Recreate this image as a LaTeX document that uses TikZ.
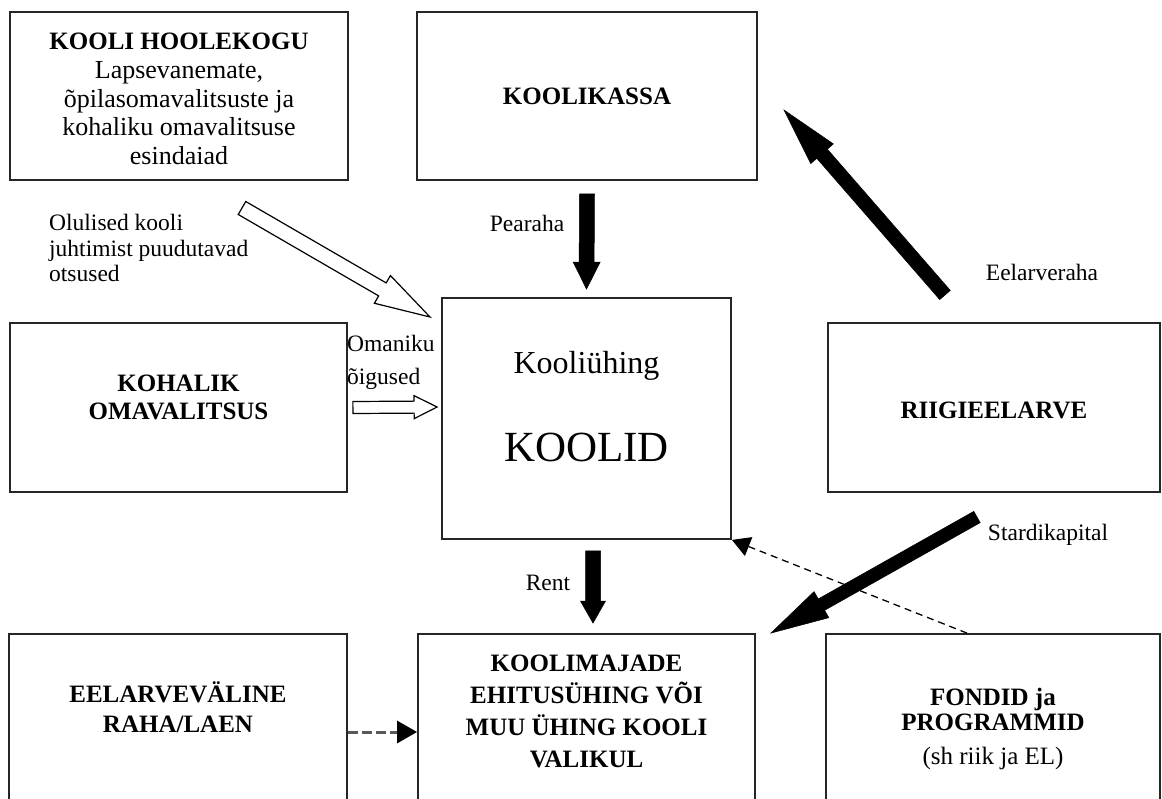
\documentclass[tikz,border=0pt]{standalone}
\usepackage{fontspec}
\setmainfont{Liberation Serif}
\usetikzlibrary{arrows.meta,calc,positioning}

% block arrow: [style]{from}{to}{shaft width}{head width}{head length}
\newcommand{\bigarrow}[6][]{%
  \path[#1] let \p1=#2, \p2=#3,
      \n1={atan2(\y2-\y1,\x2-\x1)},
      \n2={veclen(\x2-\x1,\y2-\y1)} in
    [shift={(\p1)}, rotate=\n1]
    (0pt,#4pt/2) -- (\n2-#6pt,#4pt/2) -- (\n2-#6pt,#5pt/2) -- (\n2+0pt,0pt)
    -- (\n2-#6pt,-#5pt/2) -- (\n2-#6pt,-#4pt/2) -- (0pt,-#4pt/2) -- cycle;}

\tikzset{
  box/.style={draw=black!85, line width=1.8pt, fill=white, inner sep=0pt},
  title/.style={font=\fontsize{25}{30}\selectfont\bfseries, align=center},
  lbl/.style={inner sep=0pt, font=\fontsize{23.5}{26}\selectfont},
  money/.style={fill=black, draw=black, line width=0.5pt},
  hollow/.style={fill=white, draw=black, line width=1.2pt},
  dashlink/.style={line width=1.3pt, dash pattern=on 7pt off 5pt, -{Triangle[length=18pt,width=20pt]}}
}

\begin{document}
\begin{tikzpicture}[x=1pt, y=-1pt]
  \useasboundingbox (0,0) rectangle (1162,798);
  \clip (0,0) rectangle (1162,798);

  % top row
  \node[box, minimum width=338pt, minimum height=168pt] (hoole) at (179,96) {};
  \node[align=center, font=\fontsize{26}{28.8}\selectfont] (hooleT) at (179,99)
    {{\bfseries\fontsize{25}{28.8}\selectfont KOOLI HOOLEKOGU}\\Lapsevanemate,\\%
     õpilasomavalitsuste ja\\kohaliku omavalitsuse\\esindaiad};
  \node[box, title, minimum width=340pt, minimum height=168pt] (kassa) at (587,96) {KOOLIKASSA};

  % middle row
  \node[box, minimum width=337pt, minimum height=169pt] (kohalik) at (178.5,407.5) {};
  \node[title, font=\fontsize{25}{28}\selectfont\bfseries] (kohalikT) at (178.5,397) {KOHALIK\\OMAVALITSUS};
  \node[box, minimum width=289pt, minimum height=241pt] (koolid) at (586.5,418.5) {};
  \node[font=\fontsize{32}{34}\selectfont] (kyhing) at (586.5,366) {Kooliühing};
  \node[font=\fontsize{43}{45}\selectfont] (koolidT) at (586.5,447) {KOOLID};
  \node[box, minimum width=332pt, minimum height=169pt] (riigi) at (994,407.5) {};
  \node[title] (riigiT) at (994,410) {RIIGIEELARVE};

  % bottom row (runs past the lower edge)
  \node[box, minimum width=338pt, minimum height=168pt] (eelv) at (178,718) {};
  \node[title] (eelvT) at (178,707) {EELARVEVÄLINE\\RAHA/LAEN};
  \node[box, minimum width=337pt, minimum height=168pt] (maja) at (586.5,718) {};
  \node[title, font=\fontsize{25}{32}\selectfont\bfseries] (majaT) at (586.5,711)
    {KOOLIMAJADE\\EHITUSÜHING VÕI\\MUU ÜHING KOOLI\\VALIKUL};
  \node[box, minimum width=334pt, minimum height=168pt] (fond) at (993,718) {};
  \node[title, font=\fontsize{25}{25}\selectfont\bfseries] (fondT) at (993,729)
    {FONDID ja\\PROGRAMMID\\[9pt]{\mdseries (sh riik ja EL)}};

  % free ends of the slanted arrows
  \coordinate (olA) at (242,208);
  \coordinate (olB) at (430,317);
  \coordinate (eelA) at (945,295);
  \coordinate (eelB) at (784,110);
  \coordinate (stA) at (977,517);

  % money flows
  \bigarrow[money]{([yshift=-13pt]kassa.south)}{([yshift=8pt]koolid.north)}{15}{27}{27}
  \bigarrow[money]{([xshift=6.5pt,yshift=-11pt]koolid.south)}{([xshift=6.5pt,yshift=10pt]maja.north)}{15}{25}{22}
  \bigarrow[money]{(eelA)}{(eelB)}{14}{30}{58}
  \bigarrow[money]{(stA)}{([xshift=15pt]maja.north east)}{13}{30}{58}

  % rights and decisions
  \bigarrow[hollow]{(olA)}{(olB)}{15}{32}{55}
  \bigarrow[hollow]{([xshift=5pt]kohalik.east)}{([xshift=-4pt,yshift=11.5pt]koolid.west)}{12}{23}{23}

  % dashed links
  \draw[line width=3pt, gray!70!black, dash pattern=on 10pt off 4pt,
        -{Triangle[length=20pt,width=22pt,color=black]}]
    ([yshift=-14pt]eelv.east) -- ([yshift=-14pt]maja.west);
  \draw[dashlink] ([xshift=-26pt]fond.north) -- (koolid.south east);

  % labels
  \node[lbl] (pearaha) at (527,223) {Pearaha};
  \node[lbl] (rent) at (548,583) {Rent};
  \node[lbl] (eelraha) at (1042,272) {Eelarveraha};
  \node[lbl] (stardi) at (1048,535) {Stardikapital};
  \node[lbl, align=left, anchor=west, font=\fontsize{23.5}{25.5}\selectfont] (olulised) at (49,248)
    {Olulised kooli\\juhtimist puudutavad\\otsused};
  \node[lbl, align=left, anchor=west, font=\fontsize{23.5}{33}\selectfont] (omaniku) at (347,362)
    {Omaniku\\õigused};
\end{tikzpicture}
\end{document}
